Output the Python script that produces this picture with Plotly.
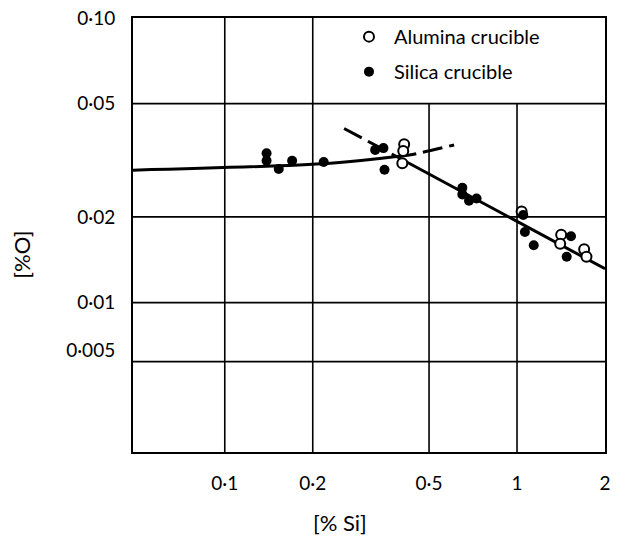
import numpy as np
import plotly.graph_objects as go

# ---- data ----
alumina_si = [0.411, 0.408, 0.405, 1.037, 1.416, 1.405, 1.697, 1.728]
alumina_o = [0.0360, 0.0341, 0.0309, 0.0209, 0.0173, 0.0161, 0.0154, 0.0145]

silica_si = [0.139, 0.139, 0.153, 0.170, 0.218, 0.327, 0.349, 0.352,
             0.650, 0.650, 0.685, 0.727, 1.050, 1.064, 1.141, 1.530, 1.479]
silica_o = [0.0335, 0.0315, 0.0295, 0.0315, 0.0312, 0.0344, 0.0349, 0.0293,
            0.0253, 0.0240, 0.0228, 0.0232, 0.0203, 0.0177, 0.0159, 0.0171, 0.0145]

# trend lines
flat_solid_si = [0.0485, 0.230, 0.387]
flat_solid_o = [0.0292, 0.0309, 0.0326]
flat_dash_si = [0.387, 0.428, 0.609]
flat_dash_o = [0.0326, 0.0330, 0.0358]
steep_dash_si = [0.256, 0.387]
steep_dash_o = [0.0409, 0.0326]
steep_solid_si = [0.387, 2.0]
steep_solid_o = [0.0326, 0.01315]

# axes
x_tickvals = [0.1, 0.2, 0.5, 1, 2]
x_ticktext = ["0·1", "0·2", "0·5", "1", "2"]
y_tickvals = [0.1, 0.05, 0.02, 0.01, 0.0068]
y_ticktext = ["0·10", "0·05", "0·02", "0·01", "0·005"]
x_grid_full = [0.1, 0.2]
x_grid_partial = [0.5, 1]
y_grid = [0.05, 0.02, 0.01, 0.0062]
X_MIN, X_MAX = 10 ** -1.314, 2.0
Y_MIN, Y_MAX = 10 ** -2.525, 0.1

FONT = "Lato"
fig = go.Figure()

# grid lines
gx, gy = [], []
for v in x_grid_full:
    gx += [v, v, None]; gy += [Y_MIN, Y_MAX, None]
for v in x_grid_partial:
    gx += [v, v, None]; gy += [Y_MIN, 0.05, None]
for v in y_grid:
    gx += [X_MIN, X_MAX, None]; gy += [v, v, None]
fig.add_trace(go.Scatter(x=gx, y=gy, mode="lines", line=dict(color="black", width=1.6),
                         showlegend=False, hoverinfo="skip"))

line_style = dict(color="black", width=3)
fig.add_trace(go.Scatter(x=flat_solid_si, y=flat_solid_o, mode="lines", line=line_style,
                         line_shape="spline", showlegend=False, hoverinfo="skip"))
fig.add_trace(go.Scatter(x=flat_dash_si, y=flat_dash_o, mode="lines",
                         line=dict(color="black", width=3, dash="20px,7px"),
                         line_shape="spline", showlegend=False, hoverinfo="skip"))
fig.add_trace(go.Scatter(x=steep_dash_si, y=steep_dash_o, mode="lines",
                         line=dict(color="black", width=3, dash="20px,7px"),
                         showlegend=False, hoverinfo="skip"))
fig.add_trace(go.Scatter(x=steep_solid_si, y=steep_solid_o, mode="lines", line=line_style,
                         showlegend=False, hoverinfo="skip"))

fig.add_trace(go.Scatter(x=alumina_si, y=alumina_o, mode="markers", name="Alumina crucible",
                         legendgroup="a",
                         marker=dict(symbol="circle", size=10, color="white",
                                     line=dict(color="black", width=2))))
fig.add_trace(go.Scatter(x=silica_si, y=silica_o, mode="markers", name="Silica crucible",
                         legendgroup="b",
                         marker=dict(symbol="circle", size=10, color="black",
                                     line=dict(color="black", width=0))))

fig.update_xaxes(type="log", range=[np.log10(X_MIN), np.log10(X_MAX)],
                 tickvals=x_tickvals, ticktext=x_ticktext, showgrid=False, zeroline=False,
                 showline=True, mirror=True, linecolor="black", linewidth=2,
                 ticks="", ticklabelstandoff=13,
                 tickfont=dict(family=FONT, size=19, color="black"))
fig.update_yaxes(type="log", range=[np.log10(Y_MIN), np.log10(Y_MAX)],
                 tickvals=y_tickvals, ticktext=y_ticktext, showgrid=False, zeroline=False,
                 showline=True, mirror=True, linecolor="black", linewidth=2,
                 ticks="", ticklabelstandoff=12,
                 tickfont=dict(family=FONT, size=19, color="black"))

fig.update_layout(
    width=617, height=538,
    margin=dict(l=133, r=6, t=13, b=86),
    paper_bgcolor="white", plot_bgcolor="white",
    font=dict(family=FONT, color="black"),
    legend=dict(x=0.447, y=1.002, xanchor="left", yanchor="top",
                font=dict(family=FONT, size=20, color="black"),
                bgcolor="rgba(0,0,0,0)", tracegroupgap=6, itemwidth=40,
                traceorder="grouped"),
    annotations=[
        dict(text="[%O]", xref="paper", yref="paper", x=-0.2364, y=0.4556,
             xanchor="center", yanchor="middle",
             textangle=-90, showarrow=False, font=dict(family=FONT, size=22, color="black")),
        dict(text="[% Si]", xref="paper", yref="paper", x=0.439, y=-0.1617,
             xanchor="center", yanchor="middle",
             showarrow=False, font=dict(family=FONT, size=22, color="black")),
    ],
)

fig.write_html("out.html")
